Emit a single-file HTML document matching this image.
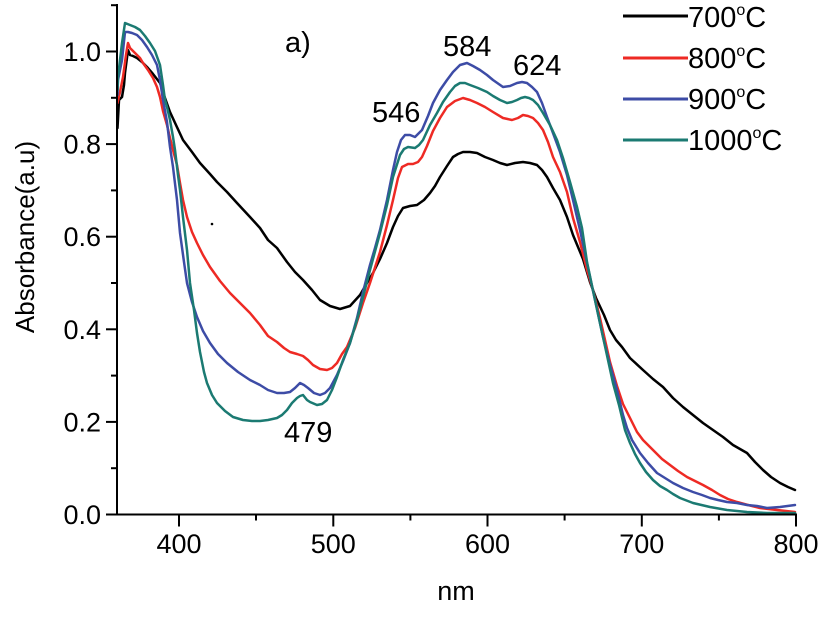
<!DOCTYPE html>
<html><head><meta charset="utf-8"><style>
html,body{margin:0;padding:0;background:#fff;}
svg{display:block;}
text{font-family:"Liberation Sans",Arial,sans-serif;fill:#000;}
</style></head><body>
<svg width="821" height="618" viewBox="0 0 821 618" xmlns="http://www.w3.org/2000/svg">
<rect width="821" height="618" fill="#fff"/>
<g fill="none" stroke-width="2.5" stroke-linejoin="round" stroke-linecap="round">
<polyline stroke="#000" points="117.5,128 119,100 122,97 124,85 125,73 128,50 130,55 133,56 137,58 142,62 147,67 153,74 160,83 165,98 170,112 176,125 183,140 192,152 200,163 210,174 217,182 227,192 237,203 250,217 260,228 268,240 277,248 287,262 295,272 303,280 312,290 320,300 330,306 340,309 350,306 360,295 367,283 373,273 380,259 387,243 393,227 398,216 403,208 410,206 417,205 424,200 430,193 435,186 440,177 447,166 453,157 458,154 463,152 470,152 477,153 485,157 493,160 500,163 507,165 515,163 523,162 530,163 537,165 542,170 547,177 553,188 560,200 567,217 573,235 578,247 583,259 590,282 596,298 604,315 610,330 616,340 622,347 630,358 643,370 653,379 663,387 673,398 683,407 693,415 703,423 713,430 723,437 733,445 747,453 755,462 763,470 771,477 780,483 788,487 795,490"/>
<polyline stroke="#ee2a24" points="117.5,103 120,92 123,77 126,55 128,43 130,48 135,53 140,58 143,63 148,70 153,78 157,87 160,97 163,111 167,125 170,138 173,150 177,165 180,183 183,200 187,217 192,232 197,243 203,255 210,267 220,281 230,293 240,303 250,313 260,325 268,336 277,342 284,348 290,352 297,354 303,356 308,360 313,365 320,369 327,370 332,368 337,363 342,354 347,347 355,328 363,303 370,283 380,252 387,225 393,200 398,178 402,167 408,164 413,164 418,162 422,157 427,146 433,131 440,118 447,107 455,101 463,98 470,100 477,103 485,107 493,112 503,118 512,120 518,118 523,115 528,116 533,118 538,123 543,130 548,142 553,157 560,172 567,192 573,218 580,242 587,270 593,290 600,318 605,340 610,362 617,386 623,404 630,418 637,432 643,440 653,450 662,459 670,465 678,471 687,477 695,481 703,485 712,490 720,495 728,499 737,502 748,505 760,508 777,510 795,512"/>
<polyline stroke="#3d4ca6" points="117.5,95 118,80 122,60 125,32 128,32 132,33 137,35 142,40 147,47 152,55 157,65 160,80 163,100 167,122 170,147 173,167 177,200 180,233 184,262 187,283 192,302 197,317 203,331 210,343 218,354 227,363 238,372 250,380 260,385 268,390 277,393 284,393 290,392 295,388 300,383 304,385 308,388 314,393 320,395 325,393 330,388 337,375 343,361 350,343 357,318 363,292 370,265 375,248 380,230 387,200 393,170 397,152 401,140 405,135 410,135 415,137 418,134 422,130 428,116 433,103 440,90 447,80 453,72 460,65 467,63 473,66 480,70 487,75 493,80 503,87 510,86 517,83 522,82 527,83 532,87 537,92 542,103 547,117 553,133 560,152 567,175 573,200 580,230 587,263 595,300 603,337 610,365 617,390 623,415 627,428 632,440 640,453 648,463 657,473 665,478 673,483 683,488 693,492 702,495 710,498 718,500 727,502 737,503 747,505 757,506 767,508 780,507 795,505"/>
<polyline stroke="#1b7a72" points="117.5,90 118,77 122,43 125,23 130,25 135,27 140,30 145,36 150,43 155,51 160,65 163,85 165,100 167,107 170,120 173,137 175,150 178,175 180,190 183,217 187,250 190,283 194,310 197,333 200,352 204,372 207,383 212,395 217,403 225,411 233,417 243,420 252,421 260,421 268,420 277,418 282,415 287,410 292,403 297,398 300,396 303,395 307,400 310,402 317,405 322,404 327,400 332,390 337,377 343,360 350,343 357,320 363,297 370,270 380,233 387,205 393,177 400,155 404,149 408,147 415,148 419,145 423,140 430,125 437,113 443,102 450,92 455,86 460,83 465,83 470,85 478,88 487,92 493,96 500,100 507,103 512,102 517,100 521,98 525,97 529,98 533,100 538,105 543,113 550,125 557,140 563,158 570,182 577,207 582,228 587,262 595,300 603,337 608,360 613,383 619,405 625,430 630,443 635,454 640,463 646,472 653,480 660,486 667,490 673,494 680,498 693,503 710,507 727,510 747,512 767,513 795,513"/>
</g>
<circle cx="212" cy="224" r="1.3" fill="#000"/>
<g stroke="#000" stroke-width="2" fill="none">
<line x1="117" y1="4" x2="117" y2="515.5"/>
<line x1="106" y1="514.5" x2="797" y2="514.5"/>
<line x1="106" y1="421.9" x2="117" y2="421.9"/>
<line x1="106" y1="329.3" x2="117" y2="329.3"/>
<line x1="106" y1="236.7" x2="117" y2="236.7"/>
<line x1="106" y1="144.1" x2="117" y2="144.1"/>
<line x1="106" y1="51.5" x2="117" y2="51.5"/>
<line x1="111" y1="468.2" x2="117" y2="468.2"/>
<line x1="111" y1="375.6" x2="117" y2="375.6"/>
<line x1="111" y1="283" x2="117" y2="283"/>
<line x1="111" y1="190.4" x2="117" y2="190.4"/>
<line x1="111" y1="97.8" x2="117" y2="97.8"/>
<line x1="111" y1="5.2" x2="117" y2="5.2"/>
<line x1="179" y1="514.5" x2="179" y2="526.5"/>
<line x1="333.3" y1="514.5" x2="333.3" y2="526.5"/>
<line x1="487.5" y1="514.5" x2="487.5" y2="526.5"/>
<line x1="641.8" y1="514.5" x2="641.8" y2="526.5"/>
<line x1="796" y1="514.5" x2="796" y2="526.5"/>
<line x1="256" y1="514.5" x2="256" y2="520.5"/>
<line x1="410.4" y1="514.5" x2="410.4" y2="520.5"/>
<line x1="564.6" y1="514.5" x2="564.6" y2="520.5"/>
<line x1="718.9" y1="514.5" x2="718.9" y2="520.5"/>
</g>
<g font-size="27" text-anchor="end">
<text x="101" y="524">0.0</text>
<text x="101" y="431.4">0.2</text>
<text x="101" y="338.8">0.4</text>
<text x="101" y="246.2">0.6</text>
<text x="101" y="153.6">0.8</text>
<text x="101" y="61">1.0</text>
</g>
<g font-size="27" text-anchor="middle">
<text x="179" y="553">400</text>
<text x="333.3" y="553">500</text>
<text x="487.5" y="553">600</text>
<text x="641.8" y="553">700</text>
<text x="796" y="553">800</text>
<text x="456" y="600">nm</text>
</g>
<text font-size="26" text-anchor="middle" transform="translate(34,237) rotate(-90)">Absorbance(a.u)</text>
<g font-size="29">
<text x="285" y="52">a)</text>
<text x="443" y="56">584</text>
<text x="513" y="75">624</text>
<text x="372" y="122">546</text>
<text x="284" y="442">479</text>
</g>
<g stroke-width="3">
<line x1="623" y1="16" x2="688" y2="16" stroke="#000"/>
<line x1="623" y1="58" x2="688" y2="58" stroke="#ee2a24"/>
<line x1="623" y1="99" x2="688" y2="99" stroke="#3d4ca6"/>
<line x1="623" y1="140" x2="688" y2="140" stroke="#1b7a72"/>
</g>
<g font-size="29">
<text x="688" y="27">700<tspan font-size="16" dy="-12">o</tspan><tspan dy="12">C</tspan></text>
<text x="688" y="68">800<tspan font-size="16" dy="-12">o</tspan><tspan dy="12">C</tspan></text>
<text x="688" y="109">900<tspan font-size="16" dy="-12">o</tspan><tspan dy="12">C</tspan></text>
<text x="688" y="150">1000<tspan font-size="16" dy="-12">o</tspan><tspan dy="12">C</tspan></text>
</g>
</svg>
</body></html>
